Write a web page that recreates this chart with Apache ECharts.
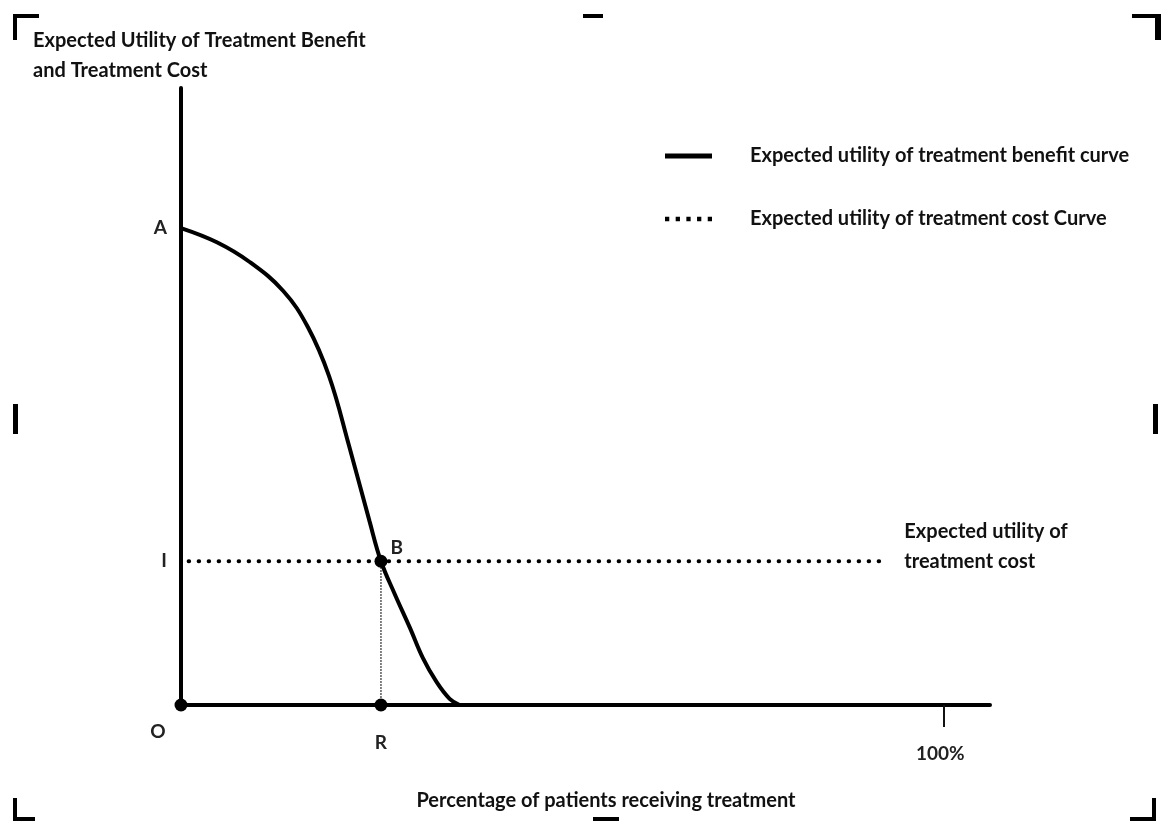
<!DOCTYPE html>
<html>
<head>
<meta charset="utf-8">
<script src="https://cdn.jsdelivr.net/npm/echarts@6/dist/echarts.min.js"></script>
<style>html,body{margin:0;padding:0;background:#fff}#c{width:1161px;height:821px}</style>
</head>
<body>
<div id="c"></div>
<script>
// Data (x = % of patients receiving treatment, y = expected utility)
const benefitCurve = [[0,77.3],[4.7,75.0],[9.0,71.8],[13.4,67.1],[16.6,61.3],[19.4,53.3],[22.0,42.1],[24.7,29.8],[26.2,23.3],[28.0,18.0],[30.0,12.5],[31.7,7.6],[33.5,3.7],[35.2,1.0],[36.5,0]];
const costLevel = 23.3;
const costLine = [[1,costLevel],[91.5,costLevel]];
const pointB = [26.2, costLevel];
const pointR = [26.2, 0];
const pointO = [0, 0];
const yTickValues = [77.3, costLevel];
const yTickLabels = {77.3: 'A', 23.3: 'I'};
const xTickValues = [100];
const xTickLabels = {100: '100%'};
const seriesNames = ['Expected utility of treatment benefit curve', 'Expected utility of treatment cost Curve'];
const FONT = 'Lato';
const FS = 20;

const chart = echarts.init(document.getElementById('c'));
function mark(x,y,w,h){return {type:'rect',shape:{x:x,y:y,width:w,height:h},style:{fill:'#000'},silent:true};}
const dotsIcon = 'path://M0,0h4v4h-4zM10,0h4v4h-4zM20,0h4v4h-4zM30,0h4v4h-4zM40,0h4v4h-4z';
chart.setOption({
  animation:false,
  backgroundColor:'#fff',
  color:['#000','#000','#000','#000'],
  textStyle:{fontFamily:FONT,fontWeight:'bold',color:'#111'},
  title:[
    {text:'Expected Utility of Treatment Benefit\nand Treatment Cost',left:28,top:21,textStyle:{fontFamily:FONT,fontSize:FS,fontWeight:'bold',lineHeight:30,color:'#111'}},
    {text:'Percentage of patients receiving treatment',left:601,top:786,textAlign:'center',textStyle:{fontFamily:FONT,fontSize:FS,fontWeight:'bold',color:'#111'}}
  ],
  legend:{
    data:[{name:seriesNames[0],icon:'rect',itemStyle:{color:'#000'}},{name:seriesNames[1],icon:dotsIcon,itemStyle:{color:'#000'}}],
    orient:'vertical',left:660,top:141,itemWidth:47,itemHeight:5,itemGap:43,
    textStyle:{fontFamily:FONT,fontSize:FS,fontWeight:'bold',color:'#111',padding:[0,0,0,33]},
    selectedMode:false
  },
  grid:{left:181,right:171,top:88,bottom:116,containLabel:false},
  xAxis:{type:'value',min:0,max:106,
    axisLine:{show:true,onZero:false,lineStyle:{color:'#000',width:4}},
    axisTick:{show:true,customValues:xTickValues,length:22,lineStyle:{color:'#111',width:2}},
    axisLabel:{show:true,customValues:xTickValues,formatter:v=>xTickLabels[v]||'',margin:39,padding:[0,8,0,0],fontSize:19,fontFamily:FONT,fontWeight:'bold',color:'#222'},
    splitLine:{show:false}},
  yAxis:{type:'value',min:0,max:100,
    axisLine:{show:true,onZero:false,lineStyle:{color:'#000',width:4}},
    axisTick:{show:false},
    axisLabel:{show:true,customValues:yTickValues,formatter:v=>yTickLabels[v]||'',margin:14,fontSize:19,fontFamily:FONT,fontWeight:'bold',color:'#222'},
    splitLine:{show:false}},
  series:[
    {name:seriesNames[0],type:'line',data:benefitCurve,smooth:0.4,symbol:'none',itemStyle:{color:'#000'},lineStyle:{color:'#000',width:4},z:5},
    {name:seriesNames[1],type:'line',data:costLine,symbol:'none',itemStyle:{color:'#000'},lineStyle:{color:'#000',width:4,type:[0.5,9.5],cap:'round'},
      endLabel:{show:true,formatter:'Expected utility of\ntreatment cost',distance:25,offset:[0,-15],lineHeight:30,fontSize:FS,fontFamily:FONT,fontWeight:'bold',color:'#111',align:'left'},z:4},
    {name:'BR',type:'line',data:[pointB,pointR],symbol:'none',lineStyle:{color:'#222',width:1.5,type:[1.5,1.5]},z:3},
    {name:'points',type:'scatter',symbolSize:13,itemStyle:{color:'#000',opacity:1},z:10,
      data:[
        {value:pointB,label:{show:true,formatter:'B',position:'right',offset:[-2,-13]}},
        {value:pointR,label:{show:true,formatter:'R',position:'bottom',offset:[0,17]}},
        {value:pointO,label:{show:true,formatter:'O',position:'bottom',offset:[-23,6]}}
      ],
      label:{fontSize:19,fontFamily:FONT,fontWeight:'bold',color:'#222'}}
  ],
  graphic:[
    mark(13,14,26,4),mark(13,14,4,26),
    mark(583,14,20,4),
    mark(1132,14,29,4),mark(1155,14,6,26),
    mark(13,404,5,30),mark(1153,404,5,30),
    mark(13,798,4,23),mark(13,817,22,4),
    mark(593,817,26,4),
    mark(1152,798,4,23),mark(1130,817,26,4)
  ]
});
</script>
</body>
</html>
